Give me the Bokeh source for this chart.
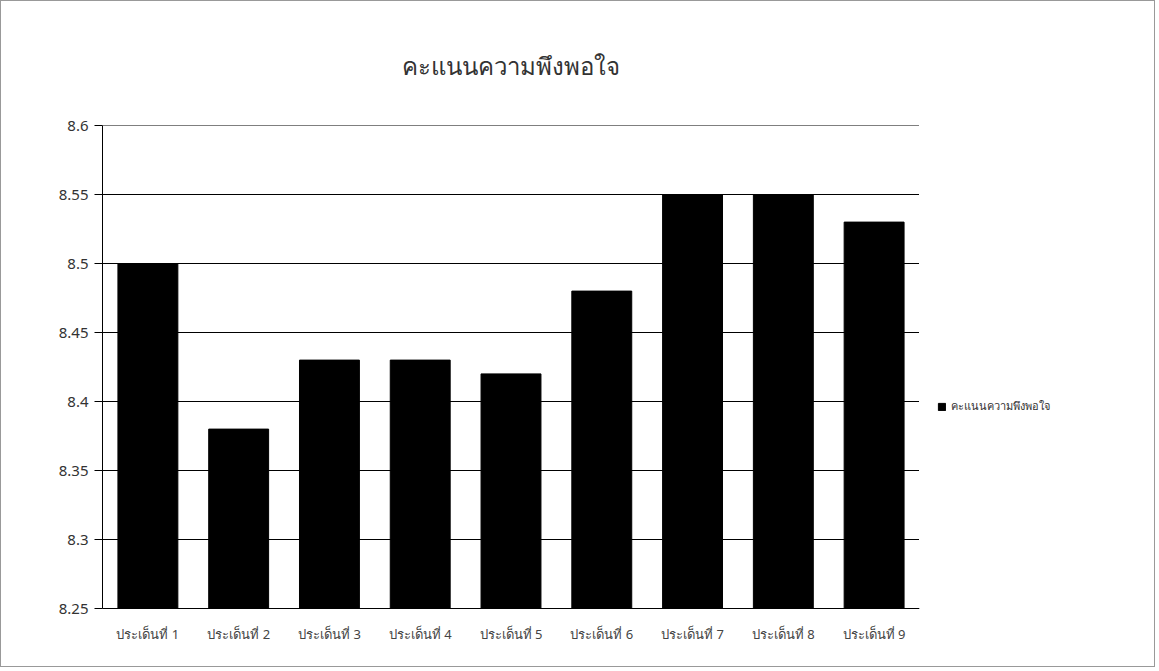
from bokeh.plotting import figure
from bokeh.layouts import row
from bokeh.models import ColumnDataSource, Legend, LegendItem, FixedTicker, Range1d, Span
from bokeh.embed import file_html
from bokeh.resources import INLINE

categories = ["ประเด็นที่ 1", "ประเด็นที่ 2", "ประเด็นที่ 3", "ประเด็นที่ 4", "ประเด็นที่ 5",
              "ประเด็นที่ 6", "ประเด็นที่ 7", "ประเด็นที่ 8", "ประเด็นที่ 9"]
scores = [8.50, 8.38, 8.43, 8.43, 8.42, 8.48, 8.55, 8.55, 8.53]
y_ticks = [8.25, 8.3, 8.35, 8.4, 8.45, 8.5, 8.55, 8.6]
series_name = "คะแนนความพึงพอใจ"
title_text = "คะแนนความพึงพอใจ"

source = ColumnDataSource(dict(cat=categories, val=scores))

p = figure(x_range=categories, y_range=Range1d(y_ticks[0], y_ticks[-1]),
           frame_width=817, frame_height=483,
           output_backend="svg", toolbar_location=None, title=title_text,
           min_border_left=101, min_border_right=0, min_border_top=124, min_border_bottom=58)

r = p.vbar(x="cat", top="val", bottom=y_ticks[0], width=0.66, source=source,
           fill_color="black", line_color="black")

p.title.align = "center"
p.title.text_font = "Noto Sans"
p.title.text_font_style = "normal"
p.title.text_font_size = "24px"
p.title.text_color = "#333333"
p.title.standoff = 88

p.outline_line_color = None
p.background_fill_color = "white"
p.border_fill_color = "white"

p.add_layout(Span(location=y_ticks[-1], dimension="width", line_color="black", line_width=1))

p.yaxis.ticker = FixedTicker(ticks=y_ticks)
p.yaxis.major_label_overrides = {t: f"{t:g}" for t in y_ticks}
p.yaxis.major_label_text_font = "Noto Sans"
p.yaxis.major_label_text_font_size = "15px"
p.yaxis.major_label_text_color = "#333333"
p.yaxis.axis_line_color = "black"
p.yaxis.major_tick_line_color = "black"
p.yaxis.major_tick_out = 8
p.yaxis.major_tick_in = 0
p.yaxis.minor_tick_line_color = None
p.yaxis.major_label_standoff = 6

p.xaxis.major_label_text_font = "Noto Sans"
p.xaxis.major_label_text_font_size = "13px"
p.xaxis.major_label_text_color = "#444444"
p.xaxis.axis_line_color = "black"
p.xaxis.major_tick_line_color = None
p.xaxis.major_label_standoff = 10

p.ygrid.grid_line_color = "black"
p.ygrid.grid_line_width = 1
p.xgrid.grid_line_color = None

# legend panel as a separate figure to the right
q = figure(width=235, height=665, x_range=(0, 1), y_range=(0, 1),
           output_backend="svg", toolbar_location=None,
           min_border_left=0, min_border_right=0, min_border_top=0, min_border_bottom=0)
q.axis.visible = False
q.grid.grid_line_color = None
q.outline_line_color = None
q.background_fill_color = "white"
q.border_fill_color = "white"
# hidden key renderer (outside the visible range) used only for the legend swatch
key = q.vbar(x=[-5], top=[-5], bottom=[-6], width=0.5, fill_color="black", line_color="black")

legend = Legend(items=[LegendItem(label=series_name, renderers=[key])],
                location=(18, 193), label_text_font="Noto Sans", label_text_font_size="11px",
                label_text_color="#333333", glyph_width=9, glyph_height=9,
                border_line_color=None, background_fill_alpha=0, margin=0,
                padding=0, label_standoff=5)
q.add_layout(legend, "center")

layout = row(p, q)
layout.styles = {"border": "1px solid #999999"}

open("out.html", "w").write(file_html(layout, INLINE))
